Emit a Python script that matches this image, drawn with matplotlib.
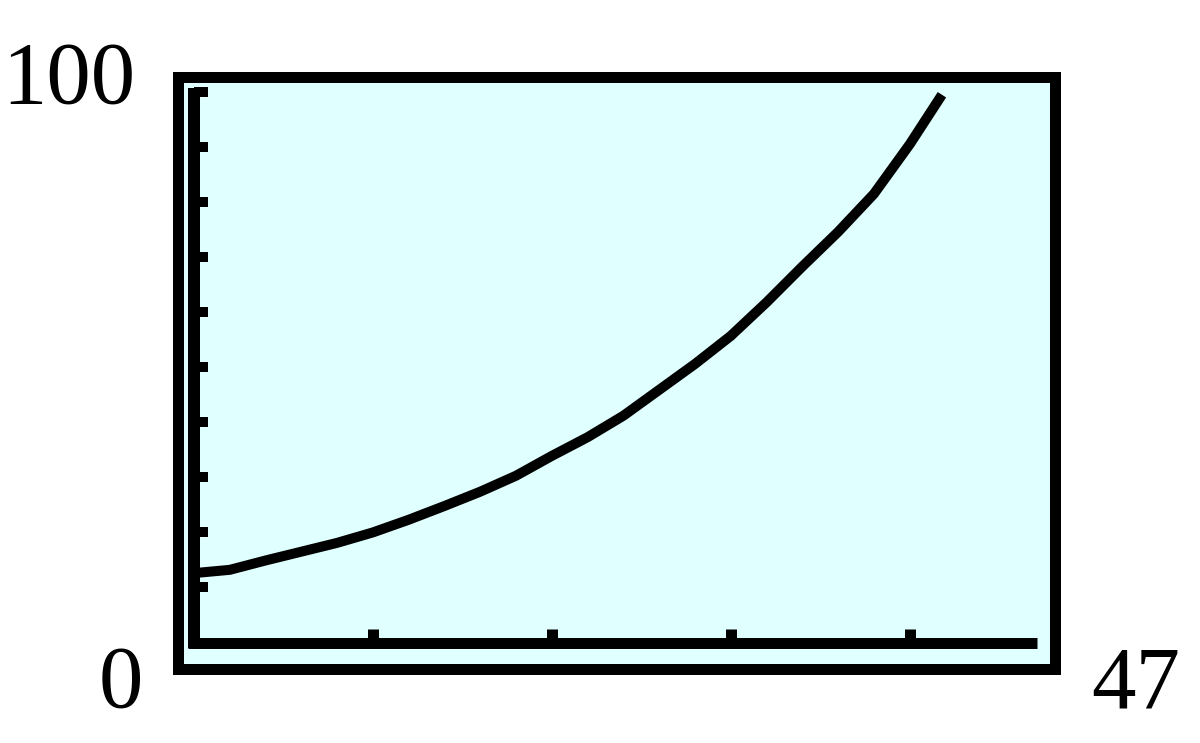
import matplotlib
matplotlib.use("Agg")
import matplotlib.pyplot as plt
from matplotlib.patches import Rectangle

x_vals = [0, 2, 4, 6, 8, 10, 12, 14, 16, 18, 20, 22, 24, 26, 28, 30, 32, 34, 36,
          38, 39, 40, 41, 41.8]
y_vals = [12.6, 13.2, 14.9, 16.5, 18.1, 20.0, 22.3, 24.8, 27.4, 30.3, 33.9, 37.3,
          41.2, 45.9, 50.6, 55.7, 61.8, 68.3, 74.6, 81.5, 86.0, 90.5, 95.5, 99.5]
x_ticks = [10, 20, 30, 40]
y_ticks = [10, 20, 30, 40, 50, 60, 70, 80, 90, 100]
x_min, x_max = 0, 47
y_min, y_max = 0, 100
label_ymax = "100"
label_min = "0"
label_xmax = "47"

W, H = 1200, 743
PX = 72 / 100.0  # points per pixel at dpi 100

fig = plt.figure(figsize=(W / 100, H / 100), dpi=100)
fig.patch.set_facecolor("white")

# outer calculator window frame
frame = Rectangle((177.5 / W, 1 - 668.5 / H), 877 / W, 592 / H,
                  transform=fig.transFigure, facecolor="#E0FFFF",
                  edgecolor="black", linewidth=11 * PX, joinstyle="miter",
                  zorder=-5)
fig.add_artist(frame)

# axes placed so that x 0..47 -> px 194..1035, y 0..100 -> px 642.5..92
left = 194 / W
width = (1035 - 194) / W
bottom = 1 - 642.5 / H
height = (642.5 - 92) / H
ax = fig.add_axes([left, bottom, width, height])
ax.set_facecolor("none")
ax.set_xlim(x_min, x_max)
ax.set_ylim(y_min, y_max)
for s in ax.spines.values():
    s.set_visible(False)

xs_per_px = (x_max - x_min) / (1035 - 194)
ys_per_px = (y_max - y_min) / (642.5 - 92)

# axis lines
ax.plot([0, 0], [-5.5 * ys_per_px, y_max + 4 * ys_per_px], color="black",
        lw=12 * PX, solid_capstyle="butt", clip_on=False, zorder=3)
ax.plot([-6 * xs_per_px, x_max + 2 * xs_per_px], [0, 0], color="black",
        lw=11 * PX, solid_capstyle="butt", clip_on=False, zorder=3)

# ticks
ax.set_xticks(x_ticks)
ax.set_yticks(y_ticks)
ax.set_xticklabels([])
ax.set_yticklabels([])
ax.tick_params(axis="x", direction="in", length=14.5 * PX, width=11 * PX,
               color="black", bottom=True, top=False)
ax.tick_params(axis="y", direction="in", length=14 * PX, width=10 * PX,
               color="black", left=True, right=False)

# curve
ax.plot(x_vals, y_vals, color="black", lw=10 * PX, solid_capstyle="butt",
        solid_joinstyle="miter", clip_on=False, zorder=4)

# window labels
font = dict(family="Liberation Serif", fontsize=64, color="black")
fig.text(135 / W, 1 - 103 / H, label_ymax, ha="right", va="baseline", **font)
fig.text(143 / W, 1 - 707 / H, label_min, ha="right", va="baseline", **font)
fig.text(1091 / W, 1 - 707 / H, label_xmax, ha="left", va="baseline", **font)

fig.savefig("out.png", dpi=100)
